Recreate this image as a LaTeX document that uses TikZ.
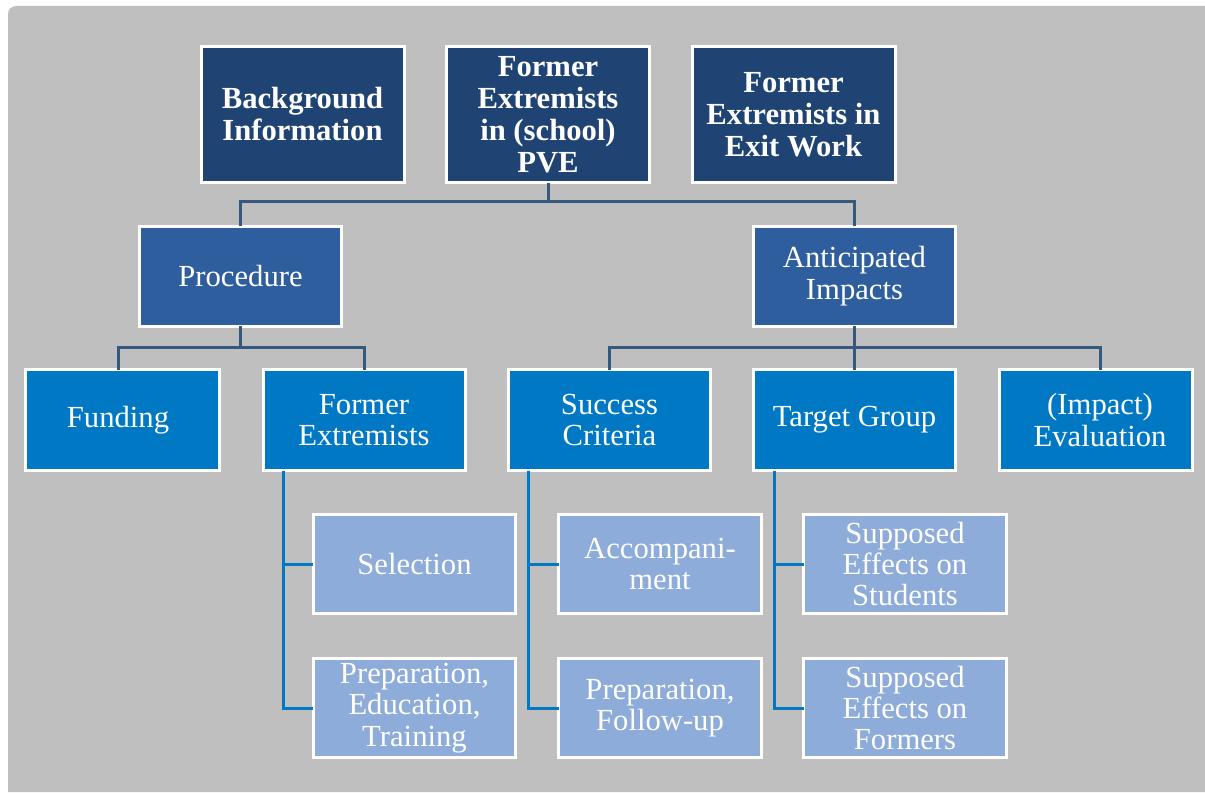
\documentclass[tikz,border=0pt]{standalone}
\usepackage{fontspec}
\setmainfont{Liberation Serif}
\usetikzlibrary{calc}

\definecolor{bggray}{RGB}{191,191,191}
\definecolor{navy}{RGB}{31,67,115}
\definecolor{midblue}{RGB}{46,94,158}
\definecolor{brightblue}{RGB}{0,120,196}
\definecolor{paleblue}{RGB}{142,172,217}
\definecolor{slate}{RGB}{53,88,126}

\tikzset{
  box/.style={draw=white, line width=2.25pt, text=white, align=center,
    inner sep=0pt, outer sep=0pt,
    font=\fontsize{23}{23.6}\selectfont},
  topbox/.style={box, fill=navy, minimum width=152.25pt, minimum height=102pt,
    font=\fontsize{23}{24}\selectfont\bfseries},
  midbox/.style={box, fill=midblue, minimum width=151.5pt, minimum height=75pt},
  subbox/.style={box, fill=brightblue, minimum width=151.5pt, minimum height=75.75pt},
  leafbox/.style={box, fill=paleblue, minimum width=152pt, minimum height=74.25pt},
  conn/.style={draw=slate, line width=2.25pt},
  connb/.style={draw=brightblue, line width=2.25pt}
}

\begin{document}
\begin{tikzpicture}[x=0.75pt, y=-0.75pt]
  % page and grey panel
  \fill[white] (0,0) rectangle (1205,792);
  \useasboundingbox (0,0) rectangle (1205,792);
  \fill[bggray] (8,792) -- (8,14) arc[start angle=180, end angle=90, radius=6pt]
    -- (1205,6) -- (1205,792) -- cycle;

  % top row
  \node[topbox] (bg)   at (302.5,114.5) {Background\\Information};
  \node[topbox] (pve)  at (548,114.5)   {Former\\Extremists\\in (school)\\PVE};
  \node[topbox] (exit) at (793.5,114.5) {Former\\Extremists in\\Exit Work};

  % second row
  \node[midbox] (proc) at (240.5,276) {Procedure};
  \node[midbox] (imp)  at (854.5,276) {Anticipated\\Impacts};

  % third row (the two outer boxes are trimmed, their labels stay on the rail)
  \node[subbox, minimum width=145.5pt] (fund) at (122.5,420) {\hspace*{-6.75pt}Funding};
  \node[subbox] (fe)   at (364,420)   {Former\\Extremists};
  \node[subbox] (sc)   at (609.5,420) {Success\\Criteria};
  \node[subbox] (tg)   at (854.5,420) {Target Group};
  \node[subbox, minimum width=144.75pt] (eval) at (1096,420)
    {(Impact)\hspace*{-6pt}\\Evaluation\hspace*{-6pt}};

  % fourth row
  \node[leafbox] (sel)  at (414.5,564) {Selection};
  \node[leafbox] (pet)  at (414.5,708) {Preparation,\\Education,\\Training};
  \node[leafbox] (acc)  at (660,564)   {Accompani-\\ment};
  \node[leafbox] (pfu)  at (660,708)   {Preparation,\\Follow-up};
  \node[leafbox] (sest) at (905,564)   {Supposed\\Effects on\\Students};
  \node[leafbox] (sefo) at (905,708)   {Supposed\\Effects on\\Formers};

  % connector rails
  \coordinate (railfe) at (283,0);
  \coordinate (railsc) at (528,0);
  \coordinate (railtg) at (774,0);
  \coordinate (colfund) at (118,0);
  \coordinate (coleval) at (1100,0);

  % tree connectors
  \draw[conn] (pve.south) -- ++(0,19) coordinate (j1) -| (proc.north);
  \draw[conn] (j1) -| (imp.north);

  \draw[conn] (proc.south) -- ++(0,21) coordinate (j2) -| (fund.north -| colfund);
  \draw[conn] (j2) -| (fe.north);

  \draw[conn] (imp.south) -- ++(0,21) coordinate (j3) -| (sc.north);
  \draw[conn] (j3) -- (tg.north);
  \draw[conn] (j3) -| (eval.north -| coleval);

  % side rails to the leaves
  \draw[connb] (fe.south -| railfe) |- (sel.west);
  \draw[connb] (fe.south -| railfe) |- (pet.west);
  \draw[connb] (sc.south -| railsc) |- (acc.west);
  \draw[connb] (sc.south -| railsc) |- (pfu.west);
  \draw[connb] (tg.south -| railtg) |- (sest.west);
  \draw[connb] (tg.south -| railtg) |- (sefo.west);
\end{tikzpicture}
\end{document}
